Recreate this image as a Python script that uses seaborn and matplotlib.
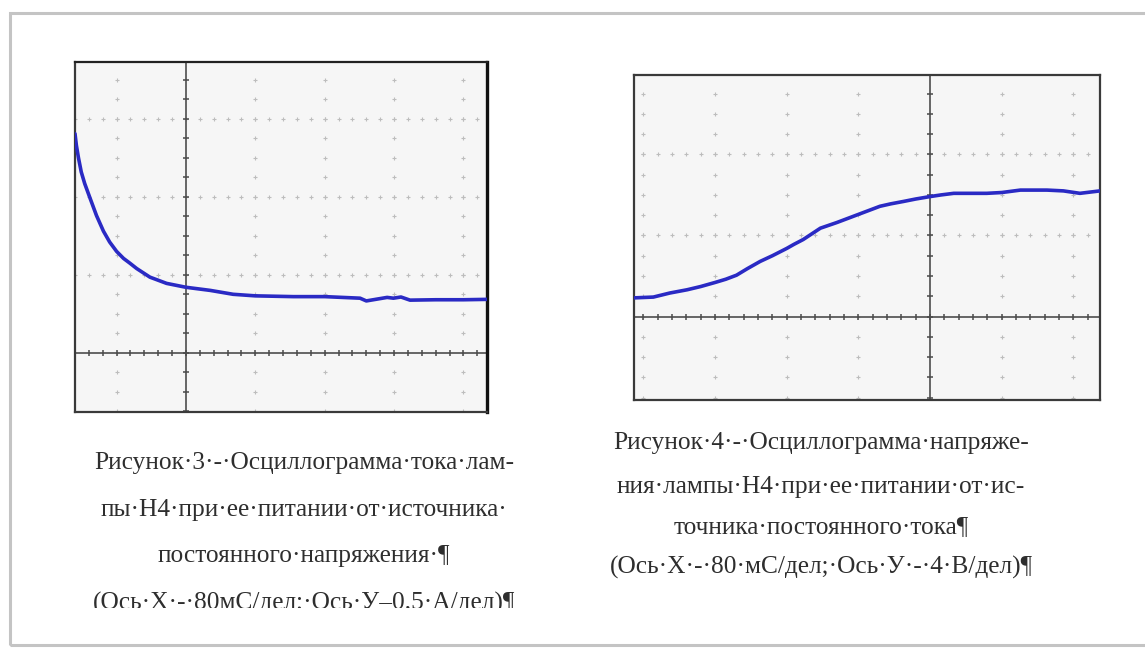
import numpy as np
import seaborn as sns
import matplotlib.pyplot as plt
from matplotlib.patches import Rectangle
from matplotlib.transforms import Bbox

# Figure 3: lamp current, scope divisions (x: 80 ms/div, y: 0.5 A/div)
cur_x = [-1.6, -1.58, -1.55, -1.51, -1.46, -1.39, -1.29, -1.19, -1.10, -1.0,
         -0.90, -0.81, -0.71, -0.52, -0.28, 0.0, 0.35, 0.68, 1.0, 1.55, 2.0,
         2.51, 2.6, 2.9, 2.99, 3.1, 3.23, 3.6, 4.0, 4.34]
cur_y = [2.81, 2.66, 2.50, 2.32, 2.17, 2.0, 1.76, 1.56, 1.42, 1.30,
         1.21, 1.15, 1.08, 0.97, 0.89, 0.84, 0.80, 0.75, 0.73, 0.72, 0.72,
         0.70, 0.665, 0.71, 0.70, 0.715, 0.675, 0.68, 0.68, 0.685]

# Figure 4: lamp voltage, scope divisions (x: 80 ms/div, y: 4 V/div)
volt_x = [-4.13, -3.86, -3.63, -3.39, -3.2, -3.0, -2.85, -2.7, -2.55, -2.37,
          -2.2, -2.0, -1.9, -1.77, -1.65, -1.53, -1.3, -1.15, -1.0, -0.85,
          -0.7, -0.55, -0.37, -0.2, 0.0, 0.15, 0.33, 0.79, 1.0, 1.26, 1.63,
          1.86, 2.09, 2.37]
volt_y = [0.23, 0.24, 0.29, 0.33, 0.37, 0.42, 0.46, 0.51, 0.59, 0.68,
          0.75, 0.84, 0.89, 0.95, 1.02, 1.09, 1.16, 1.21, 1.26, 1.31,
          1.36, 1.39, 1.42, 1.45, 1.48, 1.50, 1.52, 1.52, 1.53, 1.56, 1.56,
          1.55, 1.52, 1.55]

caption3 = ["Рисунок·3·-·Осциллограмма·тока·лам-",
            "пы·Н4·при·ее·питании·от·источника·",
            "постоянного·напряжения·¶",
            "(Ось·Х·-·80мС/дел;·Ось·У–0,5·А/дел)¶"]
caption4 = ["Рисунок·4·-·Осциллограмма·напряже-",
            "ния·лампы·Н4·при·ее·питании·от·ис-",
            "точника·постоянного·тока¶",
            "(Ось·Х·-·80·мС/дел;·Ось·У·-·4·В/дел)¶"]

W, H = 1145, 648
sns.set_theme(style="white")
plt.rcParams['font.family'] = ['Liberation Serif', 'DejaVu Serif']

fig = plt.figure(figsize=(W / 100, H / 100), dpi=100)
fig.patch.set_facecolor("white")

# page frame
fig.patches.append(Rectangle((10 / W, 1 - 645 / H), 1.2, (645 - 13) / H,
                             transform=fig.transFigure, fill=False,
                             edgecolor="#c4c4c4", lw=2.2))


def px_axes(x0, y0, x1, y1):
    return fig.add_axes([x0 / W, 1 - y1 / H, (x1 - x0) / W, (y1 - y0) / H])


def scope(ax, xlim, ylim, xs, ys):
    ax.set_facecolor("#f6f6f6")
    ax.set_xlim(*xlim)
    ax.set_ylim(*ylim)
    ax.set_xticks([])
    ax.set_yticks([])
    for s in ax.spines.values():
        s.set_color("#3a3a3a")
        s.set_linewidth(1.6)
    gx = [k for k in range(int(np.floor(xlim[0])), int(np.ceil(xlim[1])) + 1)
          if xlim[0] < k < xlim[1] and k != 0]
    gy = [k for k in range(int(np.floor(ylim[0])), int(np.ceil(ylim[1])) + 1)
          if ylim[0] + 0.1 < k < ylim[1] - 0.1 and k != 0]
    fx = np.arange(np.ceil(xlim[0] * 5), np.floor(xlim[1] * 5) + 1) / 5
    fy = np.arange(np.ceil(ylim[0] * 4), np.floor(ylim[1] * 4) + 1) / 4
    # dotted graticule
    for k in gy:
        ax.plot(fx, np.full_like(fx, k), ls="none", marker="+", ms=3.5,
                mew=0.8, color="#bdbdbd", zorder=1)
    for k in gx:
        ax.plot(np.full_like(fy, k), fy, ls="none", marker="+", ms=3.5,
                mew=0.8, color="#bdbdbd", zorder=1)
    # centre axes with minor ticks
    ax.axhline(0, color="#5a5a5a", lw=1.3, zorder=2)
    ax.axvline(0, color="#5a5a5a", lw=1.3, zorder=2)
    ax.plot(fx, np.zeros_like(fx), ls="none", marker="|", ms=5, mew=1.1,
            color="#4a4a4a", zorder=2)
    ax.plot(np.zeros_like(fy), fy, ls="none", marker="_", ms=5, mew=1.1,
            color="#4a4a4a", zorder=2)
    sns.lineplot(x=xs, y=ys, ax=ax, color="#2a2ac4", lw=2.6, zorder=3,
                 estimator=None, sort=False)


ax1 = px_axes(75, 62, 487, 412)
scope(ax1, (-1.6, 4.34), (-0.76, 3.73), cur_x, cur_y)
ax1.spines["right"].set_linewidth(2.4)
ax1.spines["right"].set_color("#111111")
ax1.spines["top"].set_color("#222222")

ax2 = px_axes(634, 75, 1100, 400)
scope(ax2, (-4.13, 2.37), (-1.03, 2.98), volt_x, volt_y)

txt_kw = dict(ha="center", va="center", fontsize=18.3, color="#2e2e2e")
left_y = [463, 510, 556, 603]
for s, y in zip(caption3, left_y):
    t = fig.text(304 / W, 1 - y / H, s, **txt_kw)
    t.set_clip_box(Bbox([[0, H - 608], [W, H]]))
    t.set_clip_on(True)

right_y = [443, 487, 527, 567]
for s, y in zip(caption4, right_y):
    fig.text(821 / W, 1 - y / H, s, **txt_kw)

fig.savefig("out.png", dpi=100)
